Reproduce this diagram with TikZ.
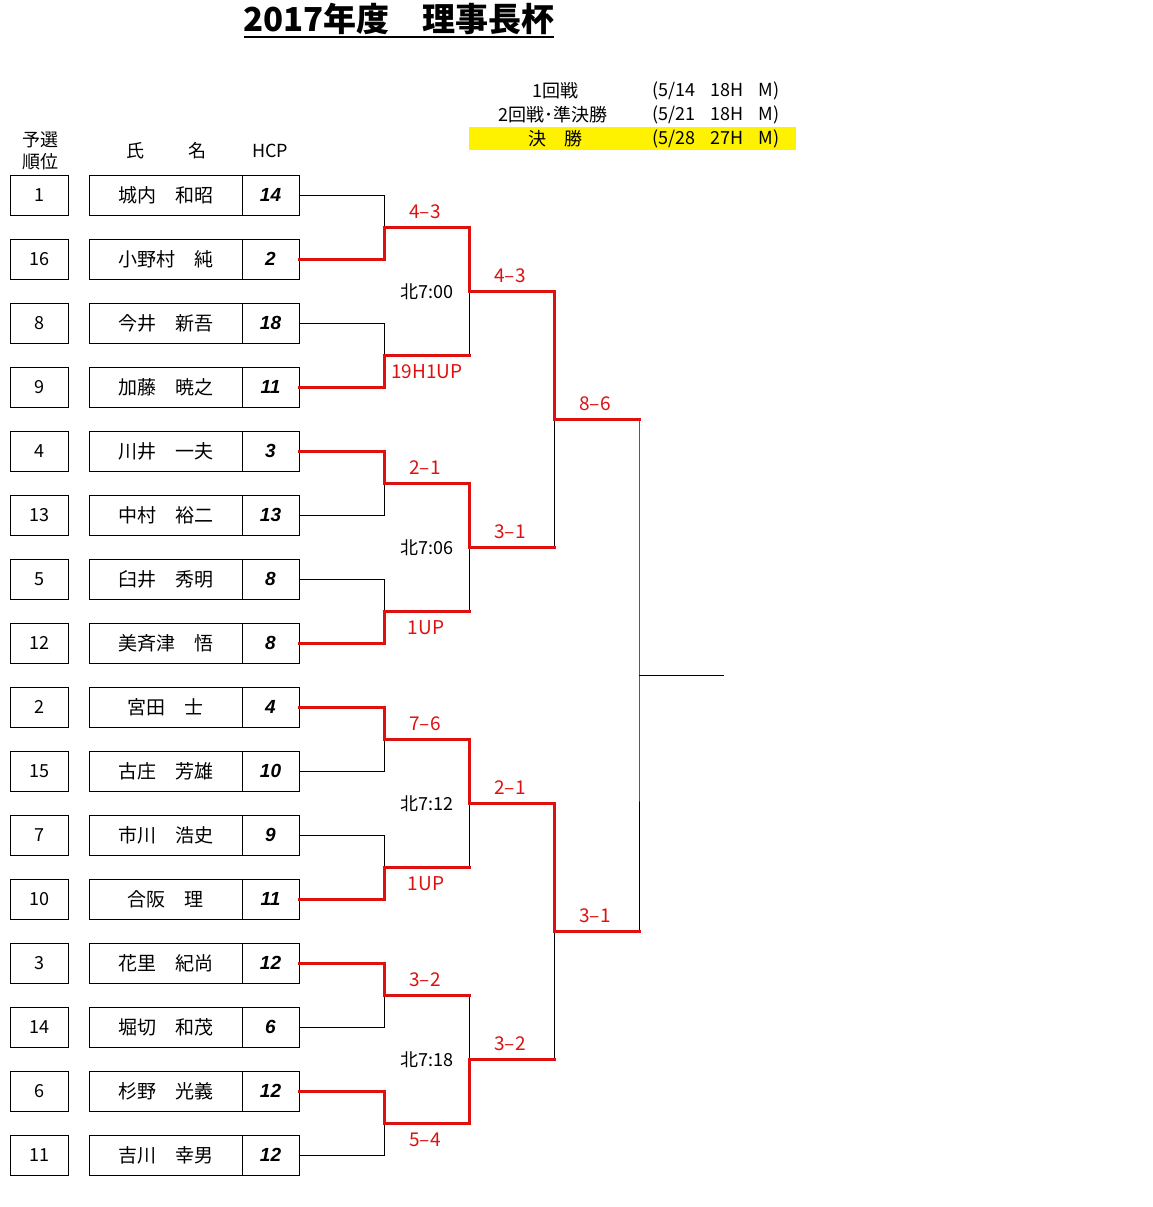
\documentclass[tikz,border=0pt]{standalone}
\usepackage{fontspec}
\setmainfont{Noto Sans CJK JP}
\newfontfamily\hcpfont{Liberation Sans}
\definecolor{wred}{RGB}{222,16,16}
\tikzset{
  rankbox/.style={draw,line width=0.9pt,minimum width=58pt,minimum height=40pt,inner sep=0pt,font=\fontsize{18}{18}\selectfont},
  namebox/.style={draw,line width=0.9pt,minimum width=153pt,minimum height=40pt,inner sep=0pt,font=\fontsize{19}{19}\selectfont},
  hcpbox/.style={draw,line width=0.9pt,minimum width=57pt,minimum height=40pt,inner sep=0pt,font=\hcpfont\bfseries\itshape\fontsize{19}{19}\selectfont},
  lose/.style={draw=black,line width=1pt},
  win/.style={draw=wred,line width=3pt,line cap=rect,line join=miter},
  score/.style={text=wred,font=\fontsize{19}{19}\selectfont,inner sep=0pt},
  tlabel/.style={font=\fontsize{18}{18}\selectfont,inner sep=0pt},
  hdr/.style={font=\fontsize{18}{18}\selectfont,inner sep=0pt}
}
\begin{document}
\begin{tikzpicture}[x=1pt,y=-1pt]
\useasboundingbox (0,0) rectangle (1152,1207);
% title
\node[inner sep=0pt,font=\bfseries\fontsize{33}{33}\selectfont] (title) at (399,19) {2017年度　理事長杯};
\draw[line width=2pt] (244,37) -- (554,37);
% schedule
\fill[yellow] (469,127) rectangle (796,150);
\node[hdr] (s1) at (555,91) {1回戦};
\node[hdr] (s2) at (553,115) {2回戦･準決勝};
\node[hdr] (s3) at (555,139) {決　勝};
\node[hdr,anchor=west] (d1) at (652,91) {(5/14\hspace{15pt}18H\hspace{15pt}M)};
\node[hdr,anchor=west] (d2) at (652,115) {(5/21\hspace{15pt}18H\hspace{15pt}M)};
\node[hdr,anchor=west] (d3) at (652,139) {(5/28\hspace{15pt}27H\hspace{15pt}M)};
% column headers
\node[hdr] (c1a) at (40,140) {予選};
\node[hdr] (c1b) at (40,162) {順位};
\node[hdr] (c2a) at (135,151) {氏};
\node[hdr] (c2b) at (197,151) {名};
\node[hdr] (c3) at (270,151) {HCP};
% players
\foreach \i/\r/\n/\h in {1/1/城内　和昭/14, 2/16/小野村　純/2, 3/8/今井　新吾/18, 4/9/加藤　暁之/11,
  5/4/川井　一夫/3, 6/13/中村　裕二/13, 7/5/臼井　秀明/8, 8/12/美斉津　悟/8,
  9/2/宮田　士/4, 10/15/古庄　芳雄/10, 11/7/市川　浩史/9, 12/10/合阪　理/11,
  13/3/花里　紀尚/12, 14/14/堀切　和茂/6, 15/6/杉野　光義/12, 16/11/吉川　幸男/12}{
  \pgfmathsetmacro\yy{195+64*(\i-1)}
  \node[rankbox] (r\i) at (39,\yy) {\r};
  \node[namebox] (n\i) at (165.5,\yy) {\n};
  \node[hcpbox] (h\i) at (270.5,\yy) {\h};
}
% junction coordinates
\foreach \k in {1,...,8}{
  \pgfmathsetmacro\yy{227+128*(\k-1)}
  \coordinate (a\k) at (384,\yy);
  \coordinate (b\k) at (469,\yy);
}
\foreach \k in {1,...,4}{
  \pgfmathsetmacro\yy{291+256*(\k-1)}
  \coordinate (c\k) at (469,\yy);
  \coordinate (d\k) at (554,\yy);
}
\coordinate (e1) at (554,419);
\coordinate (f1) at (639,419);
\coordinate (e2) at (554,931);
\coordinate (f2) at (639,931);
\coordinate (g) at (639,675);
\coordinate (gend) at (724,675);
% losers
\draw[lose] (h1.east) -| (a1);
\draw[lose] (h3.east) -| (a2) -- (b2);
\draw[lose] (h6.east) -| (a3);
\draw[lose] (h7.east) -| (a4) -- (b4);
\draw[lose] (h10.east) -| (a5);
\draw[lose] (h11.east) -| (a6) -- (b6);
\draw[lose] (h14.east) -| (a7);
\draw[lose] (h16.east) -| (a8);
\draw[lose] (b2) -- (c1);
\draw[lose] (b4) -- (c2);
\draw[lose] (b6) -- (c3);
\draw[lose] (b7) -- (c4);
\draw[lose] (d2) -- (e1);
\draw[lose] (d4) -- (e2);
\draw[lose] (f1) -- (g) -- (f2);
\draw[lose] (g) -- (gend);
% winners
\draw[win] (h2.east) -| (a1) -- (b1) -- (c1) -- (d1) -- (e1) -- (f1);
\draw[win] (h4.east) -| (a2) -- (b2);
\draw[win] (h5.east) -| (a3) -- (b3) -- (c2) -- (d2);
\draw[win] (h8.east) -| (a4) -- (b4);
\draw[win] (h9.east) -| (a5) -- (b5) -- (c3) -- (d3) -- (e2) -- (f2);
\draw[win] (h12.east) -| (a6) -- (b6);
\draw[win] (h13.east) -| (a7) -- (b7);
\draw[win] (h15.east) -| (a8) -- (b8) -- (c4) -- (d4);
% scores
\node[score] (s_a1) at (425,212) {4–3};
\node[score] (s_a2) at (427,372) {19H1UP};
\node[score] (s_c1) at (510,276) {4–3};
\node[score] (s_a3) at (425,468) {2–1};
\node[score] (s_a4) at (426,628) {1UP};
\node[score] (s_c2) at (510,532) {3–1};
\node[score] (s_e1) at (595,404) {8–6};
\node[score] (s_a5) at (425,724) {7–6};
\node[score] (s_a6) at (426,884) {1UP};
\node[score] (s_c3) at (510,788) {2–1};
\node[score] (s_a7) at (425,980) {3–2};
\node[score] (s_a8) at (425,1140) {5–4};
\node[score] (s_c4) at (510,1044) {3–2};
\node[score] (s_e2) at (595,916) {3–1};
% tee times
\node[tlabel] (t1) at (427,292) {北7:00};
\node[tlabel] (t2) at (427,548) {北7:06};
\node[tlabel] (t3) at (427,804) {北7:12};
\node[tlabel] (t4) at (427,1060) {北7:18};
\end{tikzpicture}
\end{document}
